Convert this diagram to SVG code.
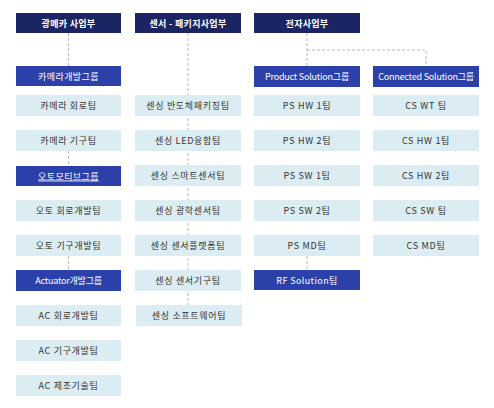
<svg xmlns="http://www.w3.org/2000/svg" width="494" height="408" viewBox="0 0 494 408">
<style>
text{font-family:"Noto Sans CJK KR","Noto Sans",sans-serif;font-size:9px;text-anchor:middle;}
.h rect{fill:#1c2564;}
.h text{fill:#ffffff;font-weight:bold;letter-spacing:0.3px;}
.g rect{fill:#2c40aa;}
.g text{fill:#ffffff;letter-spacing:0.4px;}
.g text.n{letter-spacing:-0.2px;}
.t rect{fill:#dbedf2;}
.t text{fill:#333333;letter-spacing:0.7px;}
.c{fill:none;stroke:#b8b8b8;stroke-width:1;stroke-dasharray:3,2;}
</style>
<rect width="494" height="408" fill="#ffffff"/>
<g id="connectors">
<path class="c" d="M68.5 33V66"/>
<path class="c" d="M68.5 151V166"/>
<path class="c" d="M68.5 256V270"/>
<path class="c" d="M188 33V305"/>
<path class="c" d="M307 33V66"/>
<path class="c" d="M307 50H426V66"/>
<path class="c" d="M307 256V270"/>
</g>
<g id="h1" class="h"><rect x="16" y="13" width="105" height="20"/><text x="68.5" y="26.5">광메카 사업부</text></g>
<g id="h2" class="h"><rect x="135" y="13" width="106" height="20"/><text x="188" y="26.5">센서 - 패키지사업부</text></g>
<g id="h3" class="h"><rect x="254" y="13" width="106" height="20"/><text x="307" y="26.5">전자사업부</text></g>

<g id="g1" class="g"><rect x="16" y="66" width="105" height="20"/><text x="68.5" y="79.5">카메라개발그룹</text></g>
<g id="t1a" class="t"><rect x="16" y="95" width="105" height="21"/><text x="68.5" y="109">카메라 회로팀</text></g>
<g id="t1b" class="t"><rect x="16" y="130" width="105" height="21"/><text x="68.5" y="144">카메라 기구팀</text></g>
<g id="g2" class="g"><rect x="16" y="166" width="105" height="20"/><text x="68.5" y="179.5" text-decoration="underline">오토모티브그룹</text></g>
<g id="t1c" class="t"><rect x="16" y="200" width="105" height="21"/><text x="68.5" y="214">오토 회로개발팀</text></g>
<g id="t1d" class="t"><rect x="16" y="235" width="105" height="21"/><text x="68.5" y="249">오토 기구개발팀</text></g>
<g id="g3" class="g"><rect x="16" y="270" width="105" height="21"/><text class="n" x="68.5" y="284">Actuator개발그룹</text></g>
<g id="t1e" class="t"><rect x="16" y="305" width="105" height="21"/><text x="68.5" y="319">AC 회로개발팀</text></g>
<g id="t1f" class="t"><rect x="16" y="340" width="105" height="21"/><text x="68.5" y="354">AC 기구개발팀</text></g>
<g id="t1g" class="t"><rect x="16" y="375" width="105" height="21"/><text x="68.5" y="389">AC 제조기술팀</text></g>

<g id="t2a" class="t"><rect x="135" y="95" width="106" height="21"/><text x="188" y="109">센싱 반도체패키징팀</text></g>
<g id="t2b" class="t"><rect x="135" y="130" width="106" height="21"/><text x="188" y="144">센싱 LED융합팀</text></g>
<g id="t2c" class="t"><rect x="135" y="165" width="106" height="21"/><text x="188" y="179">센싱 스마트센서팀</text></g>
<g id="t2d" class="t"><rect x="135" y="200" width="106" height="21"/><text x="188" y="214">센싱 광학센서팀</text></g>
<g id="t2e" class="t"><rect x="135" y="235" width="106" height="21"/><text x="188" y="249">센싱 센서플랫폼팀</text></g>
<g id="t2f" class="t"><rect x="135" y="270" width="106" height="21"/><text x="188" y="284">센싱 센서기구팀</text></g>
<g id="t2g" class="t"><rect x="136" y="305" width="106" height="21"/><text x="189" y="319">센싱 소프트웨어팀</text></g>

<g id="g4" class="g"><rect x="254" y="66" width="106" height="21"/><text class="n" x="307" y="80">Product  Solution그룹</text></g>
<g id="t3a" class="t"><rect x="254" y="95" width="106" height="21"/><text x="307" y="109">PS HW 1팀</text></g>
<g id="t3b" class="t"><rect x="254" y="130" width="106" height="21"/><text x="307" y="144">PS HW 2팀</text></g>
<g id="t3c" class="t"><rect x="254" y="165" width="106" height="21"/><text x="307" y="179">PS SW 1팀</text></g>
<g id="t3d" class="t"><rect x="254" y="200" width="106" height="21"/><text x="307" y="214">PS SW 2팀</text></g>
<g id="t3e" class="t"><rect x="254" y="235" width="106" height="21"/><text x="307" y="249">PS MD팀</text></g>
<g id="g5" class="g"><rect x="254" y="270" width="106" height="20"/><text x="307" y="283.5">RF Solution팀</text></g>

<g id="g6" class="g"><rect x="373" y="66" width="106" height="21"/><text class="n" x="426" y="80">Connected  Solution그룹</text></g>
<g id="t4a" class="t"><rect x="373" y="95" width="106" height="21"/><text x="426" y="109">CS WT 팀</text></g>
<g id="t4b" class="t"><rect x="373" y="130" width="106" height="21"/><text x="426" y="144">CS HW 1팀</text></g>
<g id="t4c" class="t"><rect x="373" y="165" width="106" height="21"/><text x="426" y="179">CS HW 2팀</text></g>
<g id="t4d" class="t"><rect x="373" y="200" width="106" height="21"/><text x="426" y="214">CS SW 팀</text></g>
<g id="t4e" class="t"><rect x="373" y="235" width="106" height="21"/><text x="426" y="249">CS MD팀</text></g>
</svg>
